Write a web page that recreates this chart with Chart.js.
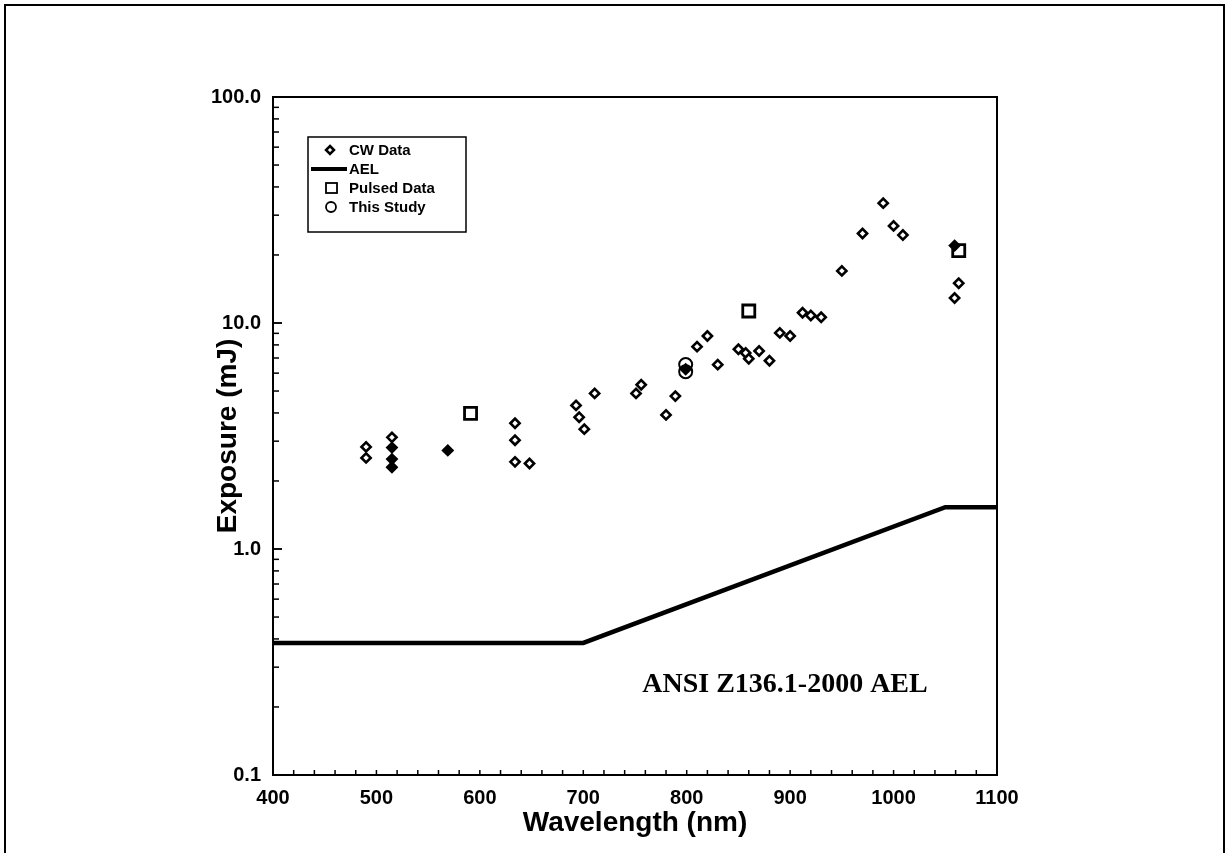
<!DOCTYPE html>
<html><head><meta charset="utf-8">
<script src="https://cdn.jsdelivr.net/npm/chart.js@4.4.0/dist/chart.umd.min.js"></script>
<style>html,body{margin:0;padding:0;background:#fff;}#wrap{width:1228px;height:853px;}</style>
</head><body><div id="wrap"><canvas id="c" width="1228" height="853"></canvas></div>
<script>
// ---- data ----
const cwWavelength = [490, 490, 515, 515, 515, 515, 569, 634, 634, 634, 648, 693, 696, 701, 711, 751, 756, 780, 789, 799, 810, 820, 830, 850, 857, 860, 870, 880, 890, 900, 912, 920, 930, 950, 970, 990, 1000, 1009, 1059, 1063, 1059];
const cwExposure   = [2.83, 2.53, 3.12, 2.81, 2.50, 2.30, 2.73, 3.60, 3.03, 2.43, 2.39, 4.32, 3.83, 3.39, 4.88, 4.88, 5.33, 3.92, 4.75, 6.24, 7.86, 8.76, 6.54, 7.65, 7.37, 6.95, 7.52, 6.81, 9.04, 8.76, 11.1, 10.8, 10.6, 17.0, 24.9, 33.9, 26.9, 24.5, 22.0, 15.0, 12.9];
const pulsedWavelength = [591, 860, 1063];
const pulsedExposure   = [3.98, 11.3, 20.9];
const studyWavelength = [799, 799];
const studyExposure   = [6.55, 6.09];
const aelWavelength = [400, 700, 1050, 1100];
const aelExposure   = [0.384, 0.384, 1.53, 1.53];
const yMajorTicks = [0.1, 1, 10, 100];
const xTicks = [400, 500, 600, 700, 800, 900, 1000, 1100];
const seriesNames = ['CW Data', 'AEL', 'Pulsed Data', 'This Study'];
const annotationText = 'ANSI Z136.1-2000 AEL';
const annotationAt = [757, 0.25];

const zip = (xs, ys) => xs.map((x, i) => ({x, y: ys[i]}));
const filledCW = new Set([3, 4, 5, 6, 19, 38]);

const framePlugin = {
  id: 'frame',
  beforeDraw(chart) {
    const ctx = chart.ctx;
    ctx.save();
    ctx.fillStyle = '#fff';
    ctx.fillRect(0, 0, chart.width, chart.height);
    ctx.strokeStyle = '#000';
    ctx.lineWidth = 2;
    ctx.beginPath();
    ctx.moveTo(5, 853); ctx.lineTo(5, 5); ctx.lineTo(1224, 5); ctx.lineTo(1224, 853);
    ctx.stroke();
    ctx.restore();
  },
  afterDraw(chart) {
    const ctx = chart.ctx, a = chart.chartArea;
    const xs = chart.scales.x, ys = chart.scales.y;
    ctx.save();
    ctx.strokeStyle = '#000';
    ctx.lineWidth = 2;
    ctx.strokeRect(a.left, a.top, a.right - a.left, a.bottom - a.top);
    // y minor/major ticks (inward)
    ctx.lineWidth = 1.5;
    for (let d = -1; d <= 1; d++) {
      for (let m = 1; m <= 10; m++) {
        const v = m * Math.pow(10, d);
        if (v > 100) continue;
        const py = ys.getPixelForValue(v);
        const len = (m === 1 || m === 10) ? 9 : 6;
        ctx.beginPath(); ctx.moveTo(a.left, py); ctx.lineTo(a.left + len, py); ctx.stroke();
      }
    }
    // x minor ticks
    for (let w = 400; w <= 1100; w += 20) {
      const px = xs.getPixelForValue(w);
      ctx.beginPath(); ctx.moveTo(px, a.bottom); ctx.lineTo(px, a.bottom - 5); ctx.stroke();
    }
    // annotation
    ctx.fillStyle = '#000';
    ctx.font = 'bold 28px "Liberation Serif", "Times New Roman", serif';
    ctx.textBaseline = 'middle';
    ctx.textAlign = 'left';
    ctx.fillText(annotationText, xs.getPixelForValue(annotationAt[0]), ys.getPixelForValue(annotationAt[1]));
    // legend box
    const lx = 308, ly = 137, lw = 158, lh = 95;
    ctx.fillStyle = '#fff';
    ctx.fillRect(lx, ly, lw, lh);
    ctx.lineWidth = 1.5;
    ctx.strokeRect(lx, ly, lw, lh);
    ctx.font = 'bold 15px "Liberation Sans", Arial, sans-serif';
    const rows = [150, 169, 188, 207];
    const tx = 349;
    // CW marker
    ctx.lineWidth = 2.5;
    ctx.beginPath();
    ctx.moveTo(330, rows[0] - 4); ctx.lineTo(334, rows[0]); ctx.lineTo(330, rows[0] + 4); ctx.lineTo(326, rows[0]); ctx.closePath();
    ctx.fillStyle = '#fff'; ctx.fill(); ctx.stroke();
    // AEL line
    ctx.lineWidth = 4;
    ctx.beginPath(); ctx.moveTo(311, rows[1]); ctx.lineTo(347, rows[1]); ctx.stroke();
    // square
    ctx.lineWidth = 1.8;
    ctx.strokeRect(326, rows[2] - 5, 11, 10);
    // circle
    ctx.beginPath(); ctx.arc(331, rows[3], 5, 0, Math.PI * 2); ctx.stroke();
    ctx.fillStyle = '#000';
    rows.forEach((r, i) => ctx.fillText(seriesNames[i], tx, r + 1));
    ctx.restore();
  }
};

const sansBold = (size) => ({ family: '"Liberation Sans", Arial, sans-serif', size, weight: 'bold' });

new Chart(document.getElementById('c'), {
  type: 'scatter',
  data: {
    datasets: [
      {
        label: seriesNames[1], type: 'line', data: zip(aelWavelength, aelExposure),
        borderColor: '#000', borderWidth: 4.5, pointRadius: 0, fill: false, tension: 0, order: 3
      },
      {
        label: seriesNames[0], data: zip(cwWavelength, cwExposure),
        pointStyle: 'rectRot', pointRadius: 4.6, borderColor: '#000', borderWidth: 2.6,
        pointBackgroundColor: c => filledCW.has(c.dataIndex) ? '#000' : '#fff', order: 1
      },
      {
        label: seriesNames[2], data: zip(pulsedWavelength, pulsedExposure),
        pointStyle: 'rect', pointRadius: 8.5, borderColor: '#000', borderWidth: 2.8,
        backgroundColor: 'rgba(0,0,0,0)', order: 2
      },
      {
        label: seriesNames[3], data: zip(studyWavelength, studyExposure),
        pointStyle: 'circle', pointRadius: 6.5, borderColor: '#000', borderWidth: 2,
        backgroundColor: 'rgba(0,0,0,0)', order: 0
      }
    ]
  },
  options: {
    responsive: false,
    animation: false,
    layout: { padding: { left: 207, top: 97, right: 231, bottom: 9 } },
    plugins: { legend: { display: false }, tooltip: { enabled: false } },
    scales: {
      x: {
        type: 'linear', min: 400, max: 1100,
        afterBuildTicks: s => { s.ticks = xTicks.map(v => ({value: v})); },
        afterFit: s => { s.height = 69; },
        grid: { display: false, drawTicks: false },
        border: { display: false },
        ticks: { color: '#000', padding: 11, maxRotation: 0, callback: v => String(v), font: sansBold(20) },
        title: { display: true, text: 'Wavelength (nm)', color: '#000', padding: { top: 4, bottom: 4 }, font: sansBold(28) }
      },
      y: {
        type: 'logarithmic', min: 0.1, max: 100,
        afterBuildTicks: s => { s.ticks = yMajorTicks.map(v => ({value: v})); },
        afterFit: s => { s.width = 66; },
        grid: { display: false, drawTicks: false },
        border: { display: false },
        ticks: { color: '#000', padding: 12, autoSkip: false, callback: v => Number(v).toFixed(1), font: sansBold(20) },
        title: { display: true, text: 'Exposure (mJ)', color: '#000', padding: { top: 4, bottom: 4 }, font: sansBold(28) }
      }
    }
  },
  plugins: [framePlugin]
});
</script></body></html>
